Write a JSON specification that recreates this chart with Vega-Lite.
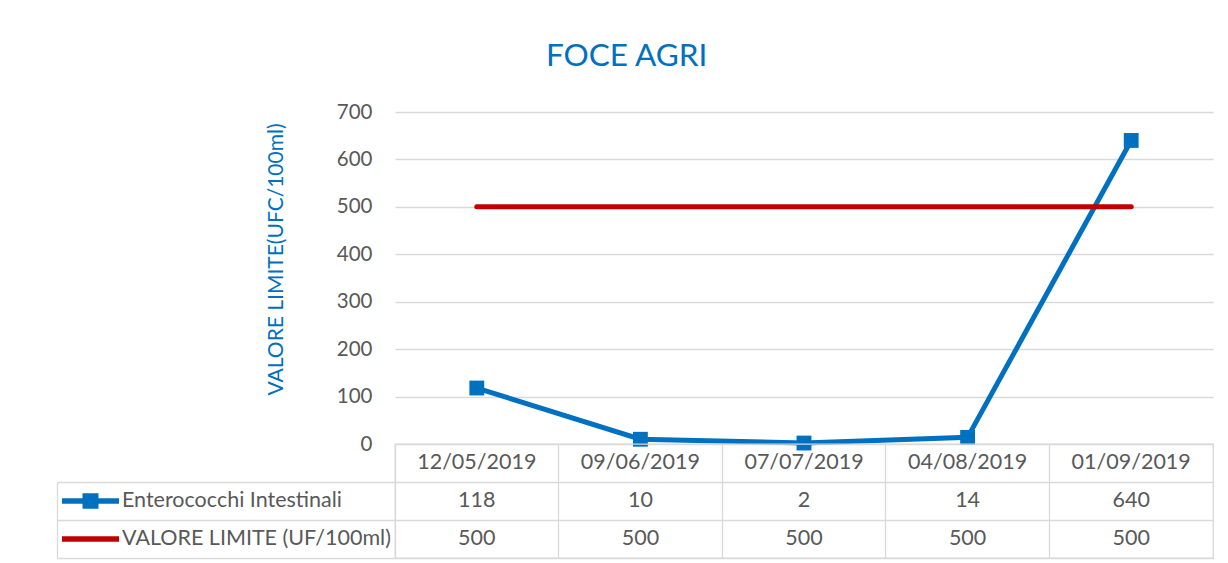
{
  "$schema": "https://vega.github.io/schema/vega-lite/v6.json",
  "padding": {"left": 55, "top": 40, "right": 10, "bottom": 2},
  "background": "white",
  "title": {"text": "FOCE AGRI", "font": "Lato", "fontSize": 31.5, "fontWeight": "normal", "color": "#0070C0", "anchor": "middle", "frame": "bounds", "offset": 30, "dx": -8},
  "config": {"view": {"stroke": null}, "font": "Lato"},
  "datasets": {
    "d": [
      {"date": "12/05/2019", "series": "Enterococchi Intestinali", "value": 118},
      {"date": "09/06/2019", "series": "Enterococchi Intestinali", "value": 10},
      {"date": "07/07/2019", "series": "Enterococchi Intestinali", "value": 2},
      {"date": "04/08/2019", "series": "Enterococchi Intestinali", "value": 14},
      {"date": "01/09/2019", "series": "Enterococchi Intestinali", "value": 640},
      {"date": "12/05/2019", "series": "VALORE LIMITE (UF/100ml)", "value": 500},
      {"date": "09/06/2019", "series": "VALORE LIMITE (UF/100ml)", "value": 500},
      {"date": "07/07/2019", "series": "VALORE LIMITE (UF/100ml)", "value": 500},
      {"date": "04/08/2019", "series": "VALORE LIMITE (UF/100ml)", "value": 500},
      {"date": "01/09/2019", "series": "VALORE LIMITE (UF/100ml)", "value": 500}
    ]
  },
  "data": {"name": "d"},
  "spacing": 0,
  "bounds": "flush",
  "resolve": {"scale": {"x": "independent", "y": "independent", "color": "independent", "shape": "independent"}, "legend": {"color": "independent", "shape": "independent"}},
  "vconcat": [
    {
      "width": 818,
      "height": 332,
      "encoding": {
        "x": {"field": "date", "type": "ordinal", "scale": {"type": "point", "padding": 0.5, "domain": ["12/05/2019", "09/06/2019", "07/07/2019", "04/08/2019", "01/09/2019"]}, "axis": null},
        "y": {"field": "value", "type": "quantitative", "scale": {"domain": [0, 700], "nice": false},
          "axis": {"title": "VALORE LIMITE(UFC/100ml)", "titleColor": "#0070C0", "titleFont": "Lato", "titleFontSize": 21, "titleFontWeight": "normal", "titlePadding": 50, "titleY": 147,
            "labelFont": "Lato", "labelFontSize": 20.5, "labelColor": "#595959", "labelPadding": 23, "ticks": false, "domain": false, "grid": true, "gridColor": "#D9D9D9", "gridWidth": 1.3,
            "values": [0, 100, 200, 300, 400, 500, 600, 700]}}
      },
      "layer": [
        {"transform": [{"filter": "datum.series === 'Enterococchi Intestinali'"}],
         "mark": {"type": "line", "color": "#0070C0", "strokeWidth": 5}},
        {"transform": [{"filter": "datum.series === 'Enterococchi Intestinali'"}],
         "mark": {"type": "point", "shape": "square", "filled": true, "size": 220, "color": "#0070C0", "opacity": 1}},
        {"transform": [{"filter": "datum.series === 'VALORE LIMITE (UF/100ml)'"}],
         "mark": {"type": "line", "color": "#C00000", "strokeWidth": 5, "strokeCap": "round"}}
      ]
    },
    {
      "width": 818,
      "height": 114,
      "view": {"stroke": "#D9D9D9", "strokeWidth": 1.3},
      "resolve": {"axis": {"y": "independent"}},
      "layer": [
        {"transform": [{"filter": "datum.series === 'Enterococchi Intestinali'"}],
         "mark": {"type": "text", "font": "Lato", "fontSize": 21.5, "color": "#595959"},
         "encoding": {
           "x": {"field": "date", "type": "ordinal", "scale": {"type": "band", "paddingInner": 0, "paddingOuter": 0, "domain": ["12/05/2019", "09/06/2019", "07/07/2019", "04/08/2019", "01/09/2019"]},
             "axis": {"title": null, "labels": false, "ticks": false, "domain": false, "grid": true, "gridColor": "#D9D9D9", "gridWidth": 1.3, "bandPosition": 0}},
           "y": {"datum": "DATE", "type": "ordinal", "scale": {"type": "band", "paddingInner": 0, "paddingOuter": 0, "domain": ["DATE", "Enterococchi Intestinali", "VALORE LIMITE (UF/100ml)"]},
             "axis": {"orient": "left", "offset": 338, "title": null, "labels": false, "ticks": false, "grid": false, "domain": true, "domainColor": "#D9D9D9", "domainWidth": 1.3, "domainDash": [0, 38, 300]}},
           "text": {"field": "date"}
         }},
        {"mark": {"type": "text", "font": "Lato", "fontSize": 21.5, "color": "#595959"},
         "encoding": {
           "x": {"field": "date", "type": "ordinal", "scale": {"type": "band", "paddingInner": 0, "paddingOuter": 0, "domain": ["12/05/2019", "09/06/2019", "07/07/2019", "04/08/2019", "01/09/2019"]},
             "axis": {"title": null, "labels": false, "ticks": false, "domain": false, "grid": true, "gridColor": "#D9D9D9", "gridWidth": 1.3, "bandPosition": 0}},
           "y": {"field": "series", "type": "ordinal", "scale": {"type": "band", "paddingInner": 0, "paddingOuter": 0, "domain": ["DATE", "Enterococchi Intestinali", "VALORE LIMITE (UF/100ml)"]},
             "axis": {"orient": "left", "title": null, "labels": false, "ticks": true, "tickSize": 338, "tickColor": "#D9D9D9", "tickWidth": 1.3, "bandPosition": 1, "grid": true, "gridColor": "#D9D9D9", "gridWidth": 1.3, "domain": false}},
           "text": {"field": "value", "type": "quantitative"}
         }},
        {"transform": [{"filter": "false"}],
         "mark": {"type": "point", "filled": true, "opacity": 1},
         "encoding": {
           "color": {"field": "series", "type": "nominal",
             "scale": {"domain": ["Enterococchi Intestinali", "VALORE LIMITE (UF/100ml)"], "range": ["#0070C0", "#C00000"]},
             "legend": {"title": null, "orient": "none", "legendX": -338, "legendY": 38, "padding": 0, "symbolSize": 3249, "clipHeight": 38, "rowPadding": 0, "symbolOffset": 5, "labelOffset": 3, "labelFont": "Lato", "labelFontSize": 21.5, "labelColor": "#595959", "symbolStrokeWidth": 0, "labelLimit": 400}},
           "shape": {"field": "series", "type": "nominal",
             "scale": {"domain": ["Enterococchi Intestinali", "VALORE LIMITE (UF/100ml)"], "range": ["M-1,-0.1H1V0.1H-1Z M-0.28,-0.27H0.28V0.27H-0.28Z", "M-1,-0.095H1V0.095H-1Z"]},
             "legend": {"title": null, "orient": "none", "legendX": -338, "legendY": 38, "padding": 0, "symbolSize": 3249, "clipHeight": 38, "rowPadding": 0, "symbolOffset": 5, "labelOffset": 3, "labelFont": "Lato", "labelFontSize": 21.5, "labelColor": "#595959", "symbolStrokeWidth": 0, "labelLimit": 400}}
         }}
      ]
    }
  ]
}
